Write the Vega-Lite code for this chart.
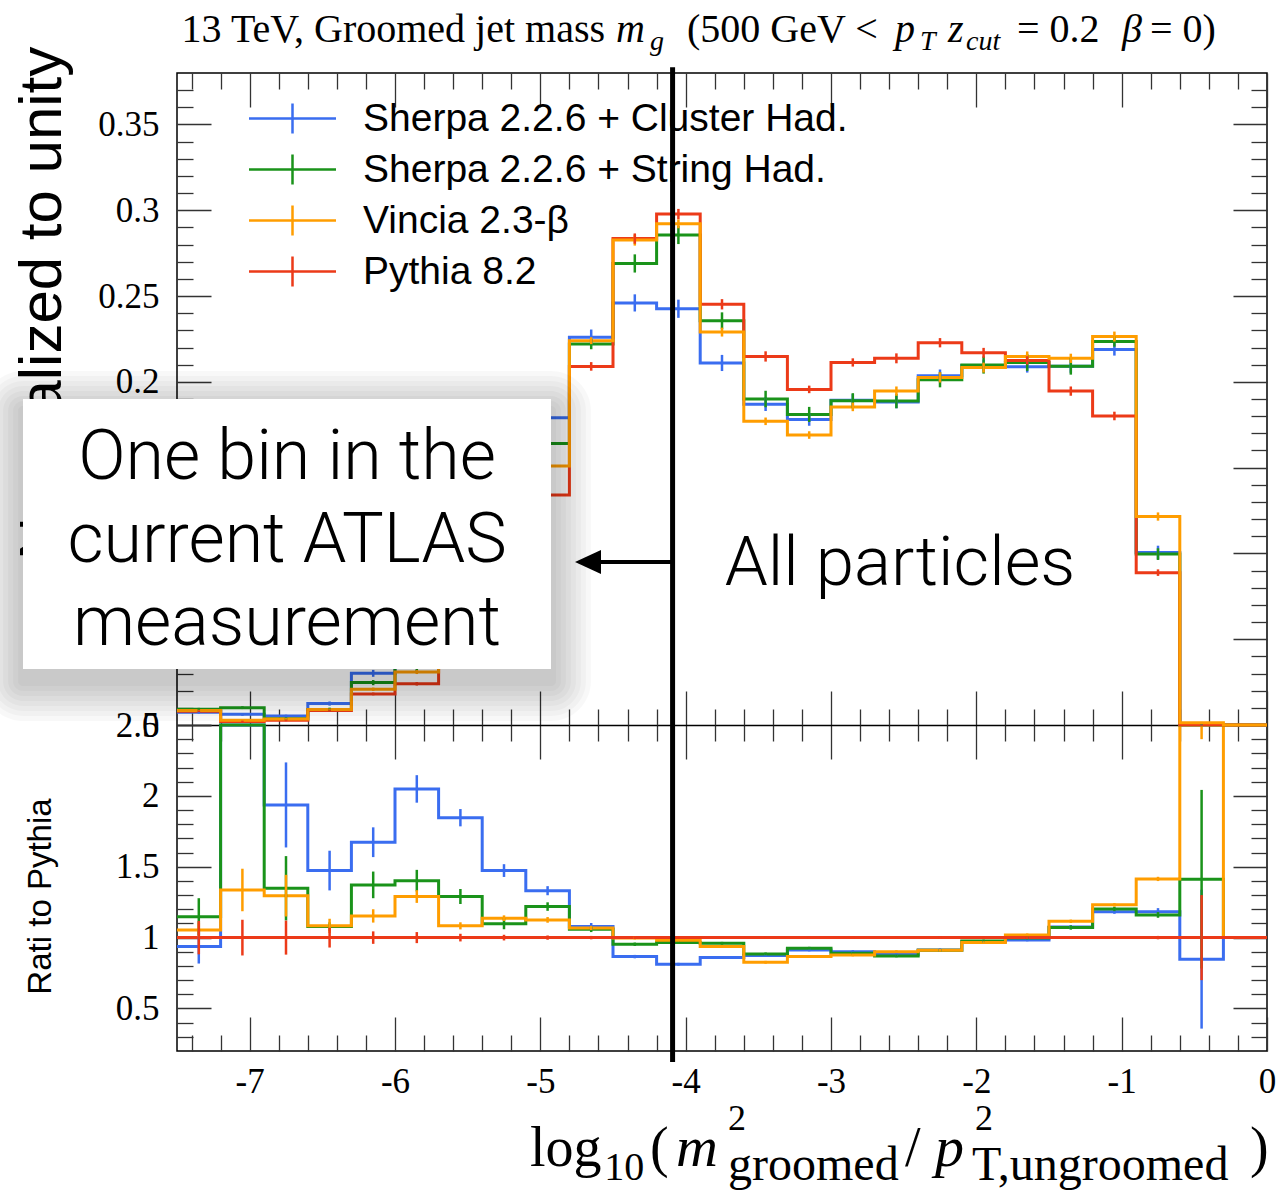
{
  "$schema": "https://vega.github.io/schema/vega-lite/v6.json",
  "width": 1090,
  "height": 978,
  "autosize": {"type": "none"},
  "padding": {"left": 177, "top": 73, "right": 10, "bottom": 142},
  "config": {
    "locale": {"number": {"decimal": ".", "thousands": ",", "grouping": [3], "currency": ["$", ""], "minus": "-"}},
    "view": {"stroke": "black", "strokeWidth": 1.5},
    "axis": {"grid": false, "tickColor": "#333333", "tickWidth": 1.3, "labelFont": "Liberation Serif", "labelFontSize": 35, "labelColor": "black", "labelOverlap": false, "labelFlush": false, "labelBound": false, "domainColor": "black", "domainWidth": 1.5, "titleFont": "Liberation Sans", "titleFontWeight": "normal", "titleColor": "black"},
    "text": {"color": "black"}
  },
  "datasets": {
    "d": [
      {"s":"Sherpa 2.2.6 + Cluster Had.","a":-7.5,"b":-7.2,"c":-7.35,"v":0.0075,"e":0.0008,"r":0.937,"q":0.12},
      {"s":"Sherpa 2.2.6 + Cluster Had.","a":-7.2,"b":-6.9,"c":-7.05,"v":0.0062,"e":0.0008,"r":3.1,"q":0.4},
      {"s":"Sherpa 2.2.6 + Cluster Had.","a":-6.9,"b":-6.6,"c":-6.75,"v":0.0052,"e":0.0008,"r":1.936,"q":0.3},
      {"s":"Sherpa 2.2.6 + Cluster Had.","a":-6.6,"b":-6.3,"c":-6.45,"v":0.0125,"e":0.0012,"r":1.473,"q":0.14},
      {"s":"Sherpa 2.2.6 + Cluster Had.","a":-6.3,"b":-6.0,"c":-6.15,"v":0.0301,"e":0.002,"r":1.673,"q":0.105},
      {"s":"Sherpa 2.2.6 + Cluster Had.","a":-6.0,"b":-5.7,"c":-5.85,"v":0.049,"e":0.0025,"r":2.049,"q":0.097},
      {"s":"Sherpa 2.2.6 + Cluster Had.","a":-5.7,"b":-5.4,"c":-5.55,"v":0.083,"e":0.003,"r":1.846,"q":0.061},
      {"s":"Sherpa 2.2.6 + Cluster Had.","a":-5.4,"b":-5.1,"c":-5.25,"v":0.125,"e":0.0035,"r":1.473,"q":0.045},
      {"s":"Sherpa 2.2.6 + Cluster Had.","a":-5.1,"b":-4.8,"c":-4.95,"v":0.179,"e":0.004,"r":1.331,"q":0.032},
      {"s":"Sherpa 2.2.6 + Cluster Had.","a":-4.8,"b":-4.5,"c":-4.65,"v":0.226,"e":0.0045,"r":1.078,"q":0.025},
      {"s":"Sherpa 2.2.6 + Cluster Had.","a":-4.5,"b":-4.2,"c":-4.35,"v":0.246,"e":0.005,"r":0.866,"q":0.012},
      {"s":"Sherpa 2.2.6 + Cluster Had.","a":-4.2,"b":-3.9,"c":-4.05,"v":0.2426,"e":0.0053,"r":0.812,"q":0.01},
      {"s":"Sherpa 2.2.6 + Cluster Had.","a":-3.9,"b":-3.6,"c":-3.75,"v":0.211,"e":0.0047,"r":0.859,"q":0.01},
      {"s":"Sherpa 2.2.6 + Cluster Had.","a":-3.6,"b":-3.3,"c":-3.45,"v":0.187,"e":0.004,"r":0.873,"q":0.01},
      {"s":"Sherpa 2.2.6 + Cluster Had.","a":-3.3,"b":-3.0,"c":-3.15,"v":0.178,"e":0.0036,"r":0.913,"q":0.01},
      {"s":"Sherpa 2.2.6 + Cluster Had.","a":-3.0,"b":-2.7,"c":-2.85,"v":0.1893,"e":0.0036,"r":0.901,"q":0.01},
      {"s":"Sherpa 2.2.6 + Cluster Had.","a":-2.7,"b":-2.4,"c":-2.55,"v":0.1882,"e":0.0036,"r":0.88,"q":0.01},
      {"s":"Sherpa 2.2.6 + Cluster Had.","a":-2.4,"b":-2.1,"c":-2.25,"v":0.2036,"e":0.0036,"r":0.913,"q":0.01},
      {"s":"Sherpa 2.2.6 + Cluster Had.","a":-2.1,"b":-1.8,"c":-1.95,"v":0.2095,"e":0.0034,"r":0.972,"q":0.01},
      {"s":"Sherpa 2.2.6 + Cluster Had.","a":-1.8,"b":-1.5,"c":-1.65,"v":0.2088,"e":0.0034,"r":0.984,"q":0.01},
      {"s":"Sherpa 2.2.6 + Cluster Had.","a":-1.5,"b":-1.2,"c":-1.35,"v":0.2091,"e":0.0038,"r":1.075,"q":0.012},
      {"s":"Sherpa 2.2.6 + Cluster Had.","a":-1.2,"b":-0.9,"c":-1.05,"v":0.2189,"e":0.0036,"r":1.183,"q":0.015},
      {"s":"Sherpa 2.2.6 + Cluster Had.","a":-0.9,"b":-0.6,"c":-0.75,"v":0.1005,"e":0.004,"r":1.183,"q":0.025},
      {"s":"Sherpa 2.2.6 + Cluster Had.","a":-0.6,"b":-0.3,"c":-0.45,"v":0.00009,"e":0.0002,"r":0.848,"q":0.49},
      {"s":"Sherpa 2.2.6 + Cluster Had.","a":-0.3,"b":0,"c":-0.15,"v":0,"e":0,"r":1,"q":0},
      {"s":"Sherpa 2.2.6 + String Had.","a":-7.5,"b":-7.2,"c":-7.35,"v":0.0092,"e":0.0008,"r":1.148,"q":0.13},
      {"s":"Sherpa 2.2.6 + String Had.","a":-7.2,"b":-6.9,"c":-7.05,"v":0.0101,"e":0.0008,"r":5.05,"q":0.6},
      {"s":"Sherpa 2.2.6 + String Had.","a":-6.9,"b":-6.6,"c":-6.75,"v":0.0036,"e":0.0008,"r":1.348,"q":0.227},
      {"s":"Sherpa 2.2.6 + String Had.","a":-6.6,"b":-6.3,"c":-6.45,"v":0.0091,"e":0.001,"r":1.078,"q":0.03},
      {"s":"Sherpa 2.2.6 + String Had.","a":-6.3,"b":-6.0,"c":-6.15,"v":0.0247,"e":0.0015,"r":1.372,"q":0.094},
      {"s":"Sherpa 2.2.6 + String Had.","a":-6.0,"b":-5.7,"c":-5.85,"v":0.0335,"e":0.002,"r":1.402,"q":0.076},
      {"s":"Sherpa 2.2.6 + String Had.","a":-5.7,"b":-5.4,"c":-5.55,"v":0.058,"e":0.003,"r":1.29,"q":0.053},
      {"s":"Sherpa 2.2.6 + String Had.","a":-5.4,"b":-5.1,"c":-5.25,"v":0.093,"e":0.0035,"r":1.097,"q":0.038},
      {"s":"Sherpa 2.2.6 + String Had.","a":-5.1,"b":-4.8,"c":-4.95,"v":0.164,"e":0.004,"r":1.219,"q":0.03},
      {"s":"Sherpa 2.2.6 + String Had.","a":-4.8,"b":-4.5,"c":-4.65,"v":0.222,"e":0.003,"r":1.059,"q":0.02},
      {"s":"Sherpa 2.2.6 + String Had.","a":-4.5,"b":-4.2,"c":-4.35,"v":0.269,"e":0.0053,"r":0.953,"q":0.012},
      {"s":"Sherpa 2.2.6 + String Had.","a":-4.2,"b":-3.9,"c":-4.05,"v":0.2856,"e":0.0053,"r":0.965,"q":0.01},
      {"s":"Sherpa 2.2.6 + String Had.","a":-3.9,"b":-3.6,"c":-3.75,"v":0.2356,"e":0.0049,"r":0.96,"q":0.01},
      {"s":"Sherpa 2.2.6 + String Had.","a":-3.6,"b":-3.3,"c":-3.45,"v":0.19,"e":0.0048,"r":0.885,"q":0.01},
      {"s":"Sherpa 2.2.6 + String Had.","a":-3.3,"b":-3.0,"c":-3.15,"v":0.181,"e":0.0044,"r":0.925,"q":0.01},
      {"s":"Sherpa 2.2.6 + String Had.","a":-3.0,"b":-2.7,"c":-2.85,"v":0.189,"e":0.0044,"r":0.89,"q":0.01},
      {"s":"Sherpa 2.2.6 + String Had.","a":-2.7,"b":-2.4,"c":-2.55,"v":0.1888,"e":0.0042,"r":0.871,"q":0.01},
      {"s":"Sherpa 2.2.6 + String Had.","a":-2.4,"b":-2.1,"c":-2.25,"v":0.2012,"e":0.0044,"r":0.91,"q":0.01},
      {"s":"Sherpa 2.2.6 + String Had.","a":-2.1,"b":-1.8,"c":-1.95,"v":0.2098,"e":0.005,"r":0.976,"q":0.01},
      {"s":"Sherpa 2.2.6 + String Had.","a":-1.8,"b":-1.5,"c":-1.65,"v":0.2113,"e":0.0049,"r":0.998,"q":0.012},
      {"s":"Sherpa 2.2.6 + String Had.","a":-1.5,"b":-1.2,"c":-1.35,"v":0.2091,"e":0.0049,"r":1.071,"q":0.015},
      {"s":"Sherpa 2.2.6 + String Had.","a":-1.2,"b":-0.9,"c":-1.05,"v":0.2235,"e":0.003,"r":1.202,"q":0.015},
      {"s":"Sherpa 2.2.6 + String Had.","a":-0.9,"b":-0.6,"c":-0.75,"v":0.0996,"e":0.0034,"r":1.16,"q":0.02},
      {"s":"Sherpa 2.2.6 + String Had.","a":-0.6,"b":-0.3,"c":-0.45,"v":0.00014,"e":0.0002,"r":1.412,"q":0.63},
      {"s":"Sherpa 2.2.6 + String Had.","a":-0.3,"b":0,"c":-0.15,"v":0,"e":0,"r":1,"q":0},
      {"s":"Vincia 2.3-β","a":-7.5,"b":-7.2,"c":-7.35,"v":0.0084,"e":0.0005,"r":1.054,"q":0.05},
      {"s":"Vincia 2.3-β","a":-7.2,"b":-6.9,"c":-7.05,"v":0.0027,"e":0.0005,"r":1.336,"q":0.15},
      {"s":"Vincia 2.3-β","a":-6.9,"b":-6.6,"c":-6.75,"v":0.0035,"e":0.0005,"r":1.296,"q":0.147},
      {"s":"Vincia 2.3-β","a":-6.6,"b":-6.3,"c":-6.45,"v":0.009,"e":0.0006,"r":1.083,"q":0.05},
      {"s":"Vincia 2.3-β","a":-6.3,"b":-6.0,"c":-6.15,"v":0.0208,"e":0.001,"r":1.153,"q":0.047},
      {"s":"Vincia 2.3-β","a":-6.0,"b":-5.7,"c":-5.85,"v":0.0309,"e":0.0012,"r":1.29,"q":0.045},
      {"s":"Vincia 2.3-β","a":-5.7,"b":-5.4,"c":-5.55,"v":0.049,"e":0.0015,"r":1.083,"q":0.025},
      {"s":"Vincia 2.3-β","a":-5.4,"b":-5.1,"c":-5.25,"v":0.097,"e":0.0018,"r":1.137,"q":0.02},
      {"s":"Vincia 2.3-β","a":-5.1,"b":-4.8,"c":-4.95,"v":0.151,"e":0.002,"r":1.125,"q":0.02},
      {"s":"Vincia 2.3-β","a":-4.8,"b":-4.5,"c":-4.65,"v":0.224,"e":0.002,"r":1.068,"q":0.015},
      {"s":"Vincia 2.3-β","a":-4.5,"b":-4.2,"c":-4.35,"v":0.2826,"e":0.0032,"r":0.997,"q":0.01},
      {"s":"Vincia 2.3-β","a":-4.2,"b":-3.9,"c":-4.05,"v":0.2921,"e":0.0026,"r":0.981,"q":0.01},
      {"s":"Vincia 2.3-β","a":-3.9,"b":-3.6,"c":-3.75,"v":0.229,"e":0.0026,"r":0.937,"q":0.01},
      {"s":"Vincia 2.3-β","a":-3.6,"b":-3.3,"c":-3.45,"v":0.177,"e":0.0022,"r":0.826,"q":0.01},
      {"s":"Vincia 2.3-β","a":-3.3,"b":-3.0,"c":-3.15,"v":0.169,"e":0.0022,"r":0.866,"q":0.01},
      {"s":"Vincia 2.3-β","a":-3.0,"b":-2.7,"c":-2.85,"v":0.1854,"e":0.0025,"r":0.878,"q":0.01},
      {"s":"Vincia 2.3-β","a":-2.7,"b":-2.4,"c":-2.55,"v":0.1946,"e":0.0027,"r":0.901,"q":0.01},
      {"s":"Vincia 2.3-β","a":-2.4,"b":-2.1,"c":-2.25,"v":0.2026,"e":0.003,"r":0.91,"q":0.01},
      {"s":"Vincia 2.3-β","a":-2.1,"b":-1.8,"c":-1.95,"v":0.2083,"e":0.0029,"r":0.965,"q":0.01},
      {"s":"Vincia 2.3-β","a":-1.8,"b":-1.5,"c":-1.65,"v":0.2148,"e":0.0029,"r":1.019,"q":0.01},
      {"s":"Vincia 2.3-β","a":-1.5,"b":-1.2,"c":-1.35,"v":0.2137,"e":0.0027,"r":1.115,"q":0.012},
      {"s":"Vincia 2.3-β","a":-1.2,"b":-0.9,"c":-1.05,"v":0.2264,"e":0.0029,"r":1.231,"q":0.012},
      {"s":"Vincia 2.3-β","a":-0.9,"b":-0.6,"c":-0.75,"v":0.1215,"e":0.0024,"r":1.414,"q":0.015},
      {"s":"Vincia 2.3-β","a":-0.6,"b":-0.3,"c":-0.45,"v":0.0013,"e":0.0005,"r":12,"q":9.6},
      {"s":"Vincia 2.3-β","a":-0.3,"b":0,"c":-0.15,"v":0,"e":0,"r":1,"q":0},
      {"s":"Pythia 8.2","a":-7.5,"b":-7.2,"c":-7.35,"v":0.008,"e":0.0005,"r":1,"q":0.118},
      {"s":"Pythia 8.2","a":-7.2,"b":-6.9,"c":-7.05,"v":0.002,"e":0.0005,"r":1,"q":0.126},
      {"s":"Pythia 8.2","a":-6.9,"b":-6.6,"c":-6.75,"v":0.0027,"e":0.0005,"r":1,"q":0.12},
      {"s":"Pythia 8.2","a":-6.6,"b":-6.3,"c":-6.45,"v":0.0084,"e":0.0006,"r":1,"q":0.07},
      {"s":"Pythia 8.2","a":-6.3,"b":-6.0,"c":-6.15,"v":0.0181,"e":0.0008,"r":1,"q":0.044},
      {"s":"Pythia 8.2","a":-6.0,"b":-5.7,"c":-5.85,"v":0.024,"e":0.001,"r":1,"q":0.039},
      {"s":"Pythia 8.2","a":-5.7,"b":-5.4,"c":-5.55,"v":0.045,"e":0.0015,"r":1,"q":0.027},
      {"s":"Pythia 8.2","a":-5.4,"b":-5.1,"c":-5.25,"v":0.085,"e":0.0018,"r":1,"q":0.02},
      {"s":"Pythia 8.2","a":-5.1,"b":-4.8,"c":-4.95,"v":0.134,"e":0.002,"r":1,"q":0.015},
      {"s":"Pythia 8.2","a":-4.8,"b":-4.5,"c":-4.65,"v":0.209,"e":0.0025,"r":1,"q":0.012},
      {"s":"Pythia 8.2","a":-4.5,"b":-4.2,"c":-4.35,"v":0.2835,"e":0.003,"r":1,"q":0.01},
      {"s":"Pythia 8.2","a":-4.2,"b":-3.9,"c":-4.05,"v":0.2978,"e":0.003,"r":1,"q":0.01},
      {"s":"Pythia 8.2","a":-3.9,"b":-3.6,"c":-3.75,"v":0.2452,"e":0.003,"r":1,"q":0.01},
      {"s":"Pythia 8.2","a":-3.6,"b":-3.3,"c":-3.45,"v":0.2148,"e":0.003,"r":1,"q":0.01},
      {"s":"Pythia 8.2","a":-3.3,"b":-3.0,"c":-3.15,"v":0.1956,"e":0.0022,"r":1,"q":0.01},
      {"s":"Pythia 8.2","a":-3.0,"b":-2.7,"c":-2.85,"v":0.2113,"e":0.0024,"r":1,"q":0.01},
      {"s":"Pythia 8.2","a":-2.7,"b":-2.4,"c":-2.55,"v":0.2137,"e":0.0029,"r":1,"q":0.01},
      {"s":"Pythia 8.2","a":-2.4,"b":-2.1,"c":-2.25,"v":0.2228,"e":0.0027,"r":1,"q":0.01},
      {"s":"Pythia 8.2","a":-2.1,"b":-1.8,"c":-1.95,"v":0.2169,"e":0.0029,"r":1,"q":0.01},
      {"s":"Pythia 8.2","a":-1.8,"b":-1.5,"c":-1.65,"v":0.2125,"e":0.0024,"r":1,"q":0.01},
      {"s":"Pythia 8.2","a":-1.5,"b":-1.2,"c":-1.35,"v":0.1946,"e":0.0027,"r":1,"q":0.01},
      {"s":"Pythia 8.2","a":-1.2,"b":-0.9,"c":-1.05,"v":0.1801,"e":0.0025,"r":1,"q":0.01},
      {"s":"Pythia 8.2","a":-0.9,"b":-0.6,"c":-0.75,"v":0.0888,"e":0.0019,"r":1,"q":0.012},
      {"s":"Pythia 8.2","a":-0.6,"b":-0.3,"c":-0.45,"v":0.0001,"e":0.0001,"r":1,"q":0.3},
      {"s":"Pythia 8.2","a":-0.3,"b":0,"c":-0.15,"v":0,"e":0,"r":1,"q":0}
    ]
  },
  "data": {"name": "d"},
  "layer": [
    {
      "transform": [{"filter": "datum.s=='Sherpa 2.2.6 + Cluster Had.'"}, {"fold": ["a", "b"], "as": ["k", "x"]}],
      "mark": {"type": "line", "strokeWidth": 3, "strokeJoin": "miter"},
      "encoding": {
        "x": {"field": "x", "type": "quantitative", "scale": {"domain": [-7.5, 0], "nice": false, "zero": false}, "axis": null},
        "y": {"field": "v", "type": "quantitative", "scale": {"domain": [0, 0.38], "nice": false, "zero": false, "range": [652, 0]}, "axis": null},
        "color": {"field": "s", "type": "nominal", "scale": {"domain": ["Sherpa 2.2.6 + Cluster Had.","Sherpa 2.2.6 + String Had.","Vincia 2.3-β","Pythia 8.2"], "range": ["#3a6df0","#1a931a","#ff9d00","#ec3a18"]},
          "legend": {"title": null, "orient": "none", "legendX": 96, "legendY": 26, "symbolType": "M-2.9,0H2.9M0,-1V1", "symbolSize": 900, "symbolStrokeWidth": 2.5, "labelFont": "Liberation Sans", "labelFontSize": 39, "labelColor": "black", "labelOffset": 51, "rowPadding": 10, "labelLimit": 0}},
        "order": {"value": null}
      }
    },
    {
      "layer": [
        {
          "transform": [{"filter": "datum.s=='Sherpa 2.2.6 + Cluster Had.'"}, {"fold": ["a", "b"], "as": ["k", "x"]}],
          "mark": {"type": "line", "strokeWidth": 3, "strokeJoin": "miter"},
          "encoding": {
            "x": {"field": "x", "type": "quantitative", "scale": {"domain": [-7.5, 0], "nice": false, "zero": false}, "axis": null},
            "y": {"field": "r", "type": "quantitative", "scale": {"domain": [0.2, 2.5], "nice": false, "zero": false, "range": [978, 652], "clamp": true}, "axis": null},
            "color": {"field": "s", "type": "nominal", "legend": null},
            "order": {"value": null}
          }
        },
        {
          "transform": [{"filter": "datum.s=='Sherpa 2.2.6 + String Had.'"}, {"fold": ["a", "b"], "as": ["k", "x"]}],
          "mark": {"type": "line", "strokeWidth": 3, "strokeJoin": "miter"},
          "encoding": {
            "x": {"field": "x", "type": "quantitative", "scale": {"domain": [-7.5, 0], "nice": false, "zero": false}, "axis": null},
            "y": {"field": "r", "type": "quantitative", "scale": {"domain": [0.2, 2.5], "nice": false, "zero": false, "range": [978, 652], "clamp": true}, "axis": null},
            "color": {"field": "s", "type": "nominal", "legend": null},
            "order": {"value": null}
          }
        },
        {
          "transform": [{"filter": "datum.s=='Vincia 2.3-β'"}, {"fold": ["a", "b"], "as": ["k", "x"]}],
          "mark": {"type": "line", "strokeWidth": 3, "strokeJoin": "miter"},
          "encoding": {
            "x": {"field": "x", "type": "quantitative", "scale": {"domain": [-7.5, 0], "nice": false, "zero": false}, "axis": null},
            "y": {"field": "r", "type": "quantitative", "scale": {"domain": [0.2, 2.5], "nice": false, "zero": false, "range": [978, 652], "clamp": true}, "axis": null},
            "color": {"field": "s", "type": "nominal", "legend": null},
            "order": {"value": null}
          }
        },
        {
          "transform": [{"filter": "datum.s=='Pythia 8.2'"}, {"fold": ["a", "b"], "as": ["k", "x"]}],
          "mark": {"type": "line", "strokeWidth": 3, "strokeJoin": "miter"},
          "encoding": {
            "x": {"field": "x", "type": "quantitative", "scale": {"domain": [-7.5, 0], "nice": false, "zero": false}, "axis": null},
            "y": {"field": "r", "type": "quantitative", "scale": {"domain": [0.2, 2.5], "nice": false, "zero": false, "range": [978, 652], "clamp": true}, "axis": null},
            "color": {"field": "s", "type": "nominal", "legend": null},
            "order": {"value": null}
          }
        },
        {
          "mark": {"type": "errorbar", "thickness": 2.5},
          "encoding": {
            "x": {"field": "c", "type": "quantitative", "scale": {"domain": [-7.5, 0], "nice": false, "zero": false}, "axis": null},
            "y": {"field": "r", "type": "quantitative", "scale": {"domain": [0.2, 2.5], "nice": false, "zero": false, "range": [978, 652], "clamp": true}, "axis": null},
            "yError": {"field": "q"},
            "color": {"field": "s", "type": "nominal", "legend": null}
          }
        }
      ]
    },
    {
      "layer": [
        {
          "transform": [{"filter": "datum.s=='Sherpa 2.2.6 + String Had.'"}, {"fold": ["a", "b"], "as": ["k", "x"]}],
          "mark": {"type": "line", "strokeWidth": 3, "strokeJoin": "miter"},
          "encoding": {
            "x": {"field": "x", "type": "quantitative", "scale": {"domain": [-7.5, 0], "nice": false, "zero": false}, "axis": null},
            "y": {"field": "v", "type": "quantitative", "scale": {"domain": [0, 0.38], "nice": false, "zero": false, "range": [652, 0]}, "axis": null},
            "color": {"field": "s", "type": "nominal", "legend": null},
            "order": {"value": null}
          }
        },
        {
          "transform": [{"filter": "datum.s=='Pythia 8.2'"}, {"fold": ["a", "b"], "as": ["k", "x"]}],
          "mark": {"type": "line", "strokeWidth": 3, "strokeJoin": "miter"},
          "encoding": {
            "x": {"field": "x", "type": "quantitative", "scale": {"domain": [-7.5, 0], "nice": false, "zero": false}, "axis": null},
            "y": {"field": "v", "type": "quantitative", "scale": {"domain": [0, 0.38], "nice": false, "zero": false, "range": [652, 0]}, "axis": null},
            "color": {"field": "s", "type": "nominal", "legend": null},
            "order": {"value": null}
          }
        },
        {
          "transform": [{"filter": "datum.s=='Vincia 2.3-β'"}, {"fold": ["a", "b"], "as": ["k", "x"]}],
          "mark": {"type": "line", "strokeWidth": 3, "strokeJoin": "miter"},
          "encoding": {
            "x": {"field": "x", "type": "quantitative", "scale": {"domain": [-7.5, 0], "nice": false, "zero": false}, "axis": null},
            "y": {"field": "v", "type": "quantitative", "scale": {"domain": [0, 0.38], "nice": false, "zero": false, "range": [652, 0]}, "axis": null},
            "color": {"field": "s", "type": "nominal", "legend": null},
            "order": {"value": null}
          }
        },
        {
          "mark": {"type": "errorbar", "thickness": 2.5},
          "encoding": {
            "x": {"field": "c", "type": "quantitative", "scale": {"domain": [-7.5, 0], "nice": false, "zero": false}, "axis": null},
            "y": {"field": "v", "type": "quantitative", "scale": {"domain": [0, 0.38], "nice": false, "zero": false, "range": [652, 0]}, "axis": null},
            "yError": {"field": "e"},
            "color": {"field": "s", "type": "nominal", "legend": null}
          }
        },
        {"data": {"values": [{}]}, "mark": {"type": "rect", "fill": "black", "fillOpacity": 0.028, "cornerRadius": 40},
          "encoding": {"x": {"datum": -8.8349, "type": "quantitative", "scale": {"domain": [-7.5, 0], "nice": false, "zero": false}, "axis": null}, "x2": {"datum": -4.6514},
            "y": {"datum": 0.20632, "type": "quantitative", "scale": {"domain": [0, 0.38], "nice": false, "zero": false, "range": [652, 0]}, "axis": null}, "y2": {"datum": 0.00233}}},
        {"data": {"values": [{}]}, "mark": {"type": "rect", "fill": "black", "fillOpacity": 0.028, "cornerRadius": 35},
          "encoding": {"x": {"datum": -8.8005, "type": "quantitative", "scale": {"domain": [-7.5, 0], "nice": false, "zero": false}, "axis": null}, "x2": {"datum": -4.6858},
            "y": {"datum": 0.2034, "type": "quantitative", "scale": {"domain": [0, 0.38], "nice": false, "zero": false, "range": [652, 0]}, "axis": null}, "y2": {"datum": 0.00525}}},
        {"data": {"values": [{}]}, "mark": {"type": "rect", "fill": "black", "fillOpacity": 0.028, "cornerRadius": 30},
          "encoding": {"x": {"datum": -8.7661, "type": "quantitative", "scale": {"domain": [-7.5, 0], "nice": false, "zero": false}, "axis": null}, "x2": {"datum": -4.7202},
            "y": {"datum": 0.20049, "type": "quantitative", "scale": {"domain": [0, 0.38], "nice": false, "zero": false, "range": [652, 0]}, "axis": null}, "y2": {"datum": 0.00816}}},
        {"data": {"values": [{}]}, "mark": {"type": "rect", "fill": "black", "fillOpacity": 0.028, "cornerRadius": 25},
          "encoding": {"x": {"datum": -8.7317, "type": "quantitative", "scale": {"domain": [-7.5, 0], "nice": false, "zero": false}, "axis": null}, "x2": {"datum": -4.7546},
            "y": {"datum": 0.19758, "type": "quantitative", "scale": {"domain": [0, 0.38], "nice": false, "zero": false, "range": [652, 0]}, "axis": null}, "y2": {"datum": 0.01107}}},
        {"data": {"values": [{}]}, "mark": {"type": "rect", "fill": "black", "fillOpacity": 0.028, "cornerRadius": 20},
          "encoding": {"x": {"datum": -8.6972, "type": "quantitative", "scale": {"domain": [-7.5, 0], "nice": false, "zero": false}, "axis": null}, "x2": {"datum": -4.789},
            "y": {"datum": 0.19466, "type": "quantitative", "scale": {"domain": [0, 0.38], "nice": false, "zero": false, "range": [652, 0]}, "axis": null}, "y2": {"datum": 0.01399}}},
        {"data": {"values": [{}]}, "mark": {"type": "rect", "fill": "black", "fillOpacity": 0.028, "cornerRadius": 15},
          "encoding": {"x": {"datum": -8.6628, "type": "quantitative", "scale": {"domain": [-7.5, 0], "nice": false, "zero": false}, "axis": null}, "x2": {"datum": -4.8234},
            "y": {"datum": 0.19175, "type": "quantitative", "scale": {"domain": [0, 0.38], "nice": false, "zero": false, "range": [652, 0]}, "axis": null}, "y2": {"datum": 0.0169}}},
        {"data": {"values": [{}]}, "mark": {"type": "rect", "fill": "black", "fillOpacity": 0.028, "cornerRadius": 10},
          "encoding": {"x": {"datum": -8.6284, "type": "quantitative", "scale": {"domain": [-7.5, 0], "nice": false, "zero": false}, "axis": null}, "x2": {"datum": -4.8578},
            "y": {"datum": 0.18883, "type": "quantitative", "scale": {"domain": [0, 0.38], "nice": false, "zero": false, "range": [652, 0]}, "axis": null}, "y2": {"datum": 0.01982}}},
        {"data": {"values": [{}]}, "mark": {"type": "rect", "fill": "black", "fillOpacity": 0.028, "cornerRadius": 5},
          "encoding": {"x": {"datum": -8.594, "type": "quantitative", "scale": {"domain": [-7.5, 0], "nice": false, "zero": false}, "axis": null}, "x2": {"datum": -4.8922},
            "y": {"datum": 0.18592, "type": "quantitative", "scale": {"domain": [0, 0.38], "nice": false, "zero": false, "range": [652, 0]}, "axis": null}, "y2": {"datum": 0.02273}}},
        {"data": {"values": [{}]}, "mark": {"type": "rect", "fill": "white"},
          "encoding": {"x": {"datum": -8.5596, "type": "quantitative", "scale": {"domain": [-7.5, 0], "nice": false, "zero": false}, "axis": null}, "x2": {"datum": -4.9266},
            "y": {"datum": 0.19, "type": "quantitative", "scale": {"domain": [0, 0.38], "nice": false, "zero": false, "range": [652, 0]}, "axis": null}, "y2": {"datum": 0.03264}}},
        {"data": {"values": [{}]}, "mark": {"type": "text", "text": ["One bin in the", "current ATLAS", "measurement"], "lineHeight": 83, "font": "Roboto", "fontWeight": 300, "fontSize": 70, "align": "center", "baseline": "middle", "color": "black"},
          "encoding": {"x": {"datum": -6.743, "type": "quantitative", "scale": {"domain": [-7.5, 0], "nice": false, "zero": false}, "axis": null},
            "y": {"datum": 0.15561, "type": "quantitative", "scale": {"domain": [0, 0.38], "nice": false, "zero": false, "range": [652, 0]}, "axis": null}}},
        {"data": {"values": [{}]}, "mark": {"type": "text", "text": "All particles", "font": "Roboto", "fontWeight": 300, "fontSize": 69, "align": "center", "baseline": "alphabetic", "color": "black"},
          "encoding": {"x": {"datum": -2.5252, "type": "quantitative", "scale": {"domain": [-7.5, 0], "nice": false, "zero": false}, "axis": null},
            "y": {"datum": 0.08159, "type": "quantitative", "scale": {"domain": [0, 0.38], "nice": false, "zero": false, "range": [652, 0]}, "axis": null}}},
        {"data": {"values": [{}]}, "mark": {"type": "rule", "color": "black", "strokeWidth": 4},
          "encoding": {"x": {"datum": -4.09, "type": "quantitative", "scale": {"domain": [-7.5, 0], "nice": false, "zero": false}, "axis": null}, "x2": {"datum": -4.62},
            "y": {"datum": 0.095, "type": "quantitative", "scale": {"domain": [0, 0.38], "nice": false, "zero": false, "range": [652, 0]}, "axis": null}}},
        {"data": {"values": [{}]}, "mark": {"type": "point", "shape": "M-1,0L1,-0.92L1,0.92Z", "size": 676, "filled": true, "fill": "black", "opacity": 1, "strokeWidth": 0},
          "encoding": {"x": {"datum": -4.672, "type": "quantitative", "scale": {"domain": [-7.5, 0], "nice": false, "zero": false}, "axis": null},
            "y": {"datum": 0.095, "type": "quantitative", "scale": {"domain": [0, 0.38], "nice": false, "zero": false, "range": [652, 0]}, "axis": null}}},
        {"data": {"values": [{}]}, "mark": {"type": "rule", "color": "black", "strokeWidth": 5},
          "encoding": {"x": {"datum": -4.09, "type": "quantitative", "scale": {"domain": [-7.5, 0], "nice": false, "zero": false}, "axis": null},
            "y": {"datum": 0.3834, "type": "quantitative", "scale": {"domain": [0, 0.38], "nice": false, "zero": false, "range": [652, 0]}, "axis": null}, "y2": {"datum": -0.1964}}},
        {"data": {"values": [{}]}, "mark": {"type": "text", "text": "13 TeV, Groomed jet mass", "font": "Liberation Serif", "fontSize": 40, "align": "left", "baseline": "alphabetic"},
          "encoding": {"x": {"datum": -7.4683, "type": "quantitative", "scale": {"domain": [-7.5, 0], "nice": false, "zero": false}, "axis": null}, "y": {"datum": 0.3982, "type": "quantitative", "scale": {"domain": [0, 0.38], "nice": false, "zero": false, "range": [652, 0]}, "axis": null}}},
        {"data": {"values": [{}]}, "mark": {"type": "text", "text": "m", "font": "Liberation Serif", "fontStyle": "italic", "fontSize": 40, "align": "left", "baseline": "alphabetic"},
          "encoding": {"x": {"datum": -4.4794, "type": "quantitative", "scale": {"domain": [-7.5, 0], "nice": false, "zero": false}, "axis": null}, "y": {"datum": 0.3982, "type": "quantitative", "scale": {"domain": [0, 0.38], "nice": false, "zero": false, "range": [652, 0]}, "axis": null}}},
        {"data": {"values": [{}]}, "mark": {"type": "text", "text": "g", "font": "Liberation Serif", "fontStyle": "italic", "fontSize": 28, "align": "left", "baseline": "alphabetic"},
          "encoding": {"x": {"datum": -4.245, "type": "quantitative", "scale": {"domain": [-7.5, 0], "nice": false, "zero": false}, "axis": null}, "y": {"datum": 0.3934, "type": "quantitative", "scale": {"domain": [0, 0.38], "nice": false, "zero": false, "range": [652, 0]}, "axis": null}}},
        {"data": {"values": [{}]}, "mark": {"type": "text", "text": "(500 GeV <", "font": "Liberation Serif", "fontSize": 40, "align": "left", "baseline": "alphabetic"},
          "encoding": {"x": {"datum": -3.9908, "type": "quantitative", "scale": {"domain": [-7.5, 0], "nice": false, "zero": false}, "axis": null}, "y": {"datum": 0.3982, "type": "quantitative", "scale": {"domain": [0, 0.38], "nice": false, "zero": false, "range": [652, 0]}, "axis": null}}},
        {"data": {"values": [{}]}, "mark": {"type": "text", "text": "p", "font": "Liberation Serif", "fontStyle": "italic", "fontSize": 40, "align": "left", "baseline": "alphabetic"},
          "encoding": {"x": {"datum": -2.5596, "type": "quantitative", "scale": {"domain": [-7.5, 0], "nice": false, "zero": false}, "axis": null}, "y": {"datum": 0.3982, "type": "quantitative", "scale": {"domain": [0, 0.38], "nice": false, "zero": false, "range": [652, 0]}, "axis": null}}},
        {"data": {"values": [{}]}, "mark": {"type": "text", "text": "T", "font": "Liberation Serif", "fontStyle": "italic", "fontSize": 28, "align": "left", "baseline": "alphabetic"},
          "encoding": {"x": {"datum": -2.3876, "type": "quantitative", "scale": {"domain": [-7.5, 0], "nice": false, "zero": false}, "axis": null}, "y": {"datum": 0.3934, "type": "quantitative", "scale": {"domain": [0, 0.38], "nice": false, "zero": false, "range": [652, 0]}, "axis": null}}},
        {"data": {"values": [{}]}, "mark": {"type": "text", "text": "z", "font": "Liberation Serif", "fontStyle": "italic", "fontSize": 40, "align": "left", "baseline": "alphabetic"},
          "encoding": {"x": {"datum": -2.195, "type": "quantitative", "scale": {"domain": [-7.5, 0], "nice": false, "zero": false}, "axis": null}, "y": {"datum": 0.3982, "type": "quantitative", "scale": {"domain": [0, 0.38], "nice": false, "zero": false, "range": [652, 0]}, "axis": null}}},
        {"data": {"values": [{}]}, "mark": {"type": "text", "text": "cut", "font": "Liberation Serif", "fontStyle": "italic", "fontSize": 28, "align": "left", "baseline": "alphabetic"},
          "encoding": {"x": {"datum": -2.0711, "type": "quantitative", "scale": {"domain": [-7.5, 0], "nice": false, "zero": false}, "axis": null}, "y": {"datum": 0.3934, "type": "quantitative", "scale": {"domain": [0, 0.38], "nice": false, "zero": false, "range": [652, 0]}, "axis": null}}},
        {"data": {"values": [{}]}, "mark": {"type": "text", "text": "= 0.2", "font": "Liberation Serif", "fontSize": 40, "align": "left", "baseline": "alphabetic"},
          "encoding": {"x": {"datum": -1.7202, "type": "quantitative", "scale": {"domain": [-7.5, 0], "nice": false, "zero": false}, "axis": null}, "y": {"datum": 0.3982, "type": "quantitative", "scale": {"domain": [0, 0.38], "nice": false, "zero": false, "range": [652, 0]}, "axis": null}}},
        {"data": {"values": [{}]}, "mark": {"type": "text", "text": "β", "font": "Liberation Serif", "fontStyle": "italic", "fontSize": 40, "align": "left", "baseline": "alphabetic"},
          "encoding": {"x": {"datum": -0.9977, "type": "quantitative", "scale": {"domain": [-7.5, 0], "nice": false, "zero": false}, "axis": null}, "y": {"datum": 0.3982, "type": "quantitative", "scale": {"domain": [0, 0.38], "nice": false, "zero": false, "range": [652, 0]}, "axis": null}}},
        {"data": {"values": [{}]}, "mark": {"type": "text", "text": "= 0)", "font": "Liberation Serif", "fontSize": 40, "align": "left", "baseline": "alphabetic"},
          "encoding": {"x": {"datum": -0.805, "type": "quantitative", "scale": {"domain": [-7.5, 0], "nice": false, "zero": false}, "axis": null}, "y": {"datum": 0.3982, "type": "quantitative", "scale": {"domain": [0, 0.38], "nice": false, "zero": false, "range": [652, 0]}, "axis": null}}},
        {"data": {"values": [{}]}, "mark": {"type": "text", "text": "log", "font": "Liberation Serif", "fontSize": 56, "align": "left", "baseline": "alphabetic"},
          "encoding": {"x": {"datum": -5.0711, "type": "quantitative", "scale": {"domain": [-7.5, 0], "nice": false, "zero": false}, "axis": null}, "y": {"datum": -0.25703, "type": "quantitative", "scale": {"domain": [0, 0.38], "nice": false, "zero": false, "range": [652, 0]}, "axis": null}}},
        {"data": {"values": [{}]}, "mark": {"type": "text", "text": "10", "font": "Liberation Serif", "fontSize": 40, "align": "left", "baseline": "alphabetic"},
          "encoding": {"x": {"datum": -4.56, "type": "quantitative", "scale": {"domain": [-7.5, 0], "nice": false, "zero": false}, "axis": null}, "y": {"datum": -0.26518, "type": "quantitative", "scale": {"domain": [0, 0.38], "nice": false, "zero": false, "range": [652, 0]}, "axis": null}}},
        {"data": {"values": [{}]}, "mark": {"type": "text", "text": "(", "font": "Liberation Serif", "fontSize": 56, "align": "left", "baseline": "alphabetic"},
          "encoding": {"x": {"datum": -4.2454, "type": "quantitative", "scale": {"domain": [-7.5, 0], "nice": false, "zero": false}, "axis": null}, "y": {"datum": -0.25703, "type": "quantitative", "scale": {"domain": [0, 0.38], "nice": false, "zero": false, "range": [652, 0]}, "axis": null}}},
        {"data": {"values": [{}]}, "mark": {"type": "text", "text": "m", "font": "Liberation Serif", "fontStyle": "italic", "fontSize": 58, "align": "left", "baseline": "alphabetic"},
          "encoding": {"x": {"datum": -4.0665, "type": "quantitative", "scale": {"domain": [-7.5, 0], "nice": false, "zero": false}, "axis": null}, "y": {"datum": -0.25703, "type": "quantitative", "scale": {"domain": [0, 0.38], "nice": false, "zero": false, "range": [652, 0]}, "axis": null}}},
        {"data": {"values": [{}]}, "mark": {"type": "text", "text": "2", "font": "Liberation Serif", "fontSize": 36, "align": "left", "baseline": "alphabetic"},
          "encoding": {"x": {"datum": -3.7087, "type": "quantitative", "scale": {"domain": [-7.5, 0], "nice": false, "zero": false}, "axis": null}, "y": {"datum": -0.23604, "type": "quantitative", "scale": {"domain": [0, 0.38], "nice": false, "zero": false, "range": [652, 0]}, "axis": null}}},
        {"data": {"values": [{}]}, "mark": {"type": "text", "text": "groomed", "font": "Liberation Serif", "fontSize": 48, "align": "left", "baseline": "alphabetic"},
          "encoding": {"x": {"datum": -3.7087, "type": "quantitative", "scale": {"domain": [-7.5, 0], "nice": false, "zero": false}, "axis": null}, "y": {"datum": -0.26518, "type": "quantitative", "scale": {"domain": [0, 0.38], "nice": false, "zero": false, "range": [652, 0]}, "axis": null}}},
        {"data": {"values": [{}]}, "mark": {"type": "text", "text": "/", "font": "Liberation Serif", "fontSize": 56, "align": "left", "baseline": "alphabetic"},
          "encoding": {"x": {"datum": -2.4908, "type": "quantitative", "scale": {"domain": [-7.5, 0], "nice": false, "zero": false}, "axis": null}, "y": {"datum": -0.25703, "type": "quantitative", "scale": {"domain": [0, 0.38], "nice": false, "zero": false, "range": [652, 0]}, "axis": null}}},
        {"data": {"values": [{}]}, "mark": {"type": "text", "text": "p", "font": "Liberation Serif", "fontStyle": "italic", "fontSize": 58, "align": "left", "baseline": "alphabetic"},
          "encoding": {"x": {"datum": -2.2844, "type": "quantitative", "scale": {"domain": [-7.5, 0], "nice": false, "zero": false}, "axis": null}, "y": {"datum": -0.25703, "type": "quantitative", "scale": {"domain": [0, 0.38], "nice": false, "zero": false, "range": [652, 0]}, "axis": null}}},
        {"data": {"values": [{}]}, "mark": {"type": "text", "text": "2", "font": "Liberation Serif", "fontSize": 36, "align": "left", "baseline": "alphabetic"},
          "encoding": {"x": {"datum": -2.0092, "type": "quantitative", "scale": {"domain": [-7.5, 0], "nice": false, "zero": false}, "axis": null}, "y": {"datum": -0.23604, "type": "quantitative", "scale": {"domain": [0, 0.38], "nice": false, "zero": false, "range": [652, 0]}, "axis": null}}},
        {"data": {"values": [{}]}, "mark": {"type": "text", "text": "T,ungroomed", "font": "Liberation Serif", "fontSize": 48, "align": "left", "baseline": "alphabetic"},
          "encoding": {"x": {"datum": -2.0298, "type": "quantitative", "scale": {"domain": [-7.5, 0], "nice": false, "zero": false}, "axis": null}, "y": {"datum": -0.26518, "type": "quantitative", "scale": {"domain": [0, 0.38], "nice": false, "zero": false, "range": [652, 0]}, "axis": null}}},
        {"data": {"values": [{}]}, "mark": {"type": "text", "text": ")", "font": "Liberation Serif", "fontSize": 56, "align": "left", "baseline": "alphabetic"},
          "encoding": {"x": {"datum": -0.117, "type": "quantitative", "scale": {"domain": [-7.5, 0], "nice": false, "zero": false}, "axis": null}, "y": {"datum": -0.25703, "type": "quantitative", "scale": {"domain": [0, 0.38], "nice": false, "zero": false, "range": [652, 0]}, "axis": null}}}
      ]
    },
    {
      "mark": {"type": "point", "opacity": 0},
      "encoding": {
        "x": {"field": "c", "type": "quantitative", "scale": {"domain": [-7.5, 0], "nice": false, "zero": false},
          "axis": {"orient": "bottom", "values": [-7,-6,-5,-4,-3,-2,-1,0], "tickSize": -34, "format": "d", "labelPadding": 47, "domain": false, "title": null}},
        "y": {"field": "r", "type": "quantitative", "scale": {"domain": [0.2, 2.5], "nice": false, "zero": false, "range": [978, 652], "clamp": true},
          "axis": {"orient": "left", "values": [0.5,1,1.5,2,2.5], "tickSize": -34, "format": ".1~f", "labelPadding": 52, "domain": false,
            "title": "Rati to Pythia", "titleFontSize": 33, "titleX": -127, "titleY": 823, "titleAngle": -90, "titleAlign": "center", "titleBaseline": "alphabetic"}}
      }
    },
    {
      "mark": {"type": "point", "opacity": 0},
      "encoding": {
        "x": {"field": "c", "type": "quantitative", "scale": {"domain": [-7.5, 0], "nice": false, "zero": false},
          "axis": {"orient": "bottom", "values": [-7.4,-7.2,-6.8,-6.6,-6.4,-6.2,-5.8,-5.6,-5.4,-5.2,-4.8,-4.6,-4.4,-4.2,-3.8,-3.6,-3.4,-3.2,-2.8,-2.6,-2.4,-2.2,-1.8,-1.6,-1.4,-1.2,-0.8,-0.6,-0.4,-0.2], "tickSize": -16, "labels": false, "domain": false, "title": null}},
        "y": {"field": "r", "type": "quantitative", "scale": {"domain": [0.2, 2.5], "nice": false, "zero": false, "range": [978, 652], "clamp": true},
          "axis": {"orient": "left", "values": [0.3,0.4,0.6,0.7,0.8,0.9,1.1,1.2,1.3,1.4,1.6,1.7,1.8,1.9,2.1,2.2,2.3,2.4], "tickSize": -16, "labels": false, "domain": false, "title": null}}
      }
    },
    {
      "mark": {"type": "point", "opacity": 0},
      "encoding": {
        "x": {"field": "c", "type": "quantitative", "scale": {"domain": [-7.5, 0], "nice": false, "zero": false},
          "axis": {"orient": "top", "offset": -652, "values": [-7,-6,-5,-4,-3,-2,-1,0], "tickSize": -34, "labels": false, "domain": false, "title": null}},
        "y": {"field": "r", "type": "quantitative", "scale": {"domain": [0.2, 2.5], "nice": false, "zero": false, "range": [978, 652], "clamp": true},
          "axis": {"orient": "right", "values": [0.5,1,1.5,2,2.5], "tickSize": -34, "labels": false, "domain": false, "title": null}}
      }
    },
    {
      "mark": {"type": "point", "opacity": 0},
      "encoding": {
        "x": {"field": "c", "type": "quantitative", "scale": {"domain": [-7.5, 0], "nice": false, "zero": false},
          "axis": {"orient": "top", "offset": -652, "values": [-7.4,-7.2,-6.8,-6.6,-6.4,-6.2,-5.8,-5.6,-5.4,-5.2,-4.8,-4.6,-4.4,-4.2,-3.8,-3.6,-3.4,-3.2,-2.8,-2.6,-2.4,-2.2,-1.8,-1.6,-1.4,-1.2,-0.8,-0.6,-0.4,-0.2], "tickSize": -16, "labels": false, "domain": false, "title": null}},
        "y": {"field": "r", "type": "quantitative", "scale": {"domain": [0.2, 2.5], "nice": false, "zero": false, "range": [978, 652], "clamp": true},
          "axis": {"orient": "right", "values": [0.3,0.4,0.6,0.7,0.8,0.9,1.1,1.2,1.3,1.4,1.6,1.7,1.8,1.9,2.1,2.2,2.3,2.4], "tickSize": -16, "labels": false, "domain": false, "title": null}}
      }
    },
    {
      "mark": {"type": "point", "opacity": 0},
      "encoding": {
        "x": {"field": "c", "type": "quantitative", "scale": {"domain": [-7.5, 0], "nice": false, "zero": false},
          "axis": {"orient": "bottom", "offset": -326, "values": [-7,-6,-5,-4,-3,-2,-1,0], "tickSize": -34, "labels": false, "domain": true, "title": null}},
        "y": {"field": "v", "type": "quantitative", "scale": {"domain": [0, 0.38], "nice": false, "zero": false, "range": [652, 0]},
          "axis": {"orient": "left", "values": [0,0.2,0.25,0.3,0.35], "tickSize": -34, "format": ".2~f", "labelPadding": 52, "domain": false,
            "title": "Normalized to unity", "titleFontSize": 60, "titleX": -117, "titleY": 230, "titleAngle": -90, "titleAlign": "center", "titleBaseline": "alphabetic"}}
      }
    },
    {
      "mark": {"type": "point", "opacity": 0},
      "encoding": {
        "x": {"field": "c", "type": "quantitative", "scale": {"domain": [-7.5, 0], "nice": false, "zero": false},
          "axis": {"orient": "bottom", "offset": -326, "values": [-7.4,-7.2,-6.8,-6.6,-6.4,-6.2,-5.8,-5.6,-5.4,-5.2,-4.8,-4.6,-4.4,-4.2,-3.8,-3.6,-3.4,-3.2,-2.8,-2.6,-2.4,-2.2,-1.8,-1.6,-1.4,-1.2,-0.8,-0.6,-0.4,-0.2], "tickSize": -16, "labels": false, "domain": false, "title": null}},
        "y": {"field": "v", "type": "quantitative", "scale": {"domain": [0, 0.38], "nice": false, "zero": false, "range": [652, 0]},
          "axis": {"orient": "left", "values": [0.01,0.02,0.03,0.04,0.05,0.06,0.07,0.08,0.09,0.1,0.11,0.12,0.13,0.14,0.15,0.16,0.17,0.18,0.19,0.21,0.22,0.23,0.24,0.26,0.27,0.28,0.29,0.31,0.32,0.33,0.34,0.36,0.37], "tickSize": -16, "labels": false, "domain": false, "title": null}}
      }
    },
    {
      "mark": {"type": "point", "opacity": 0},
      "encoding": {
        "x": {"field": "c", "type": "quantitative", "scale": {"domain": [-7.5, 0], "nice": false, "zero": false},
          "axis": {"orient": "top", "values": [-7,-6,-5,-4,-3,-2,-1,0], "tickSize": -34, "labels": false, "domain": false, "title": null}},
        "y": {"field": "v", "type": "quantitative", "scale": {"domain": [0, 0.38], "nice": false, "zero": false, "range": [652, 0]},
          "axis": {"orient": "right", "values": [0,0.05,0.1,0.15,0.2,0.25,0.3,0.35], "tickSize": -34, "labels": false, "domain": false, "title": null}}
      }
    },
    {
      "mark": {"type": "point", "opacity": 0},
      "encoding": {
        "x": {"field": "c", "type": "quantitative", "scale": {"domain": [-7.5, 0], "nice": false, "zero": false},
          "axis": {"orient": "top", "values": [-7.4,-7.2,-6.8,-6.6,-6.4,-6.2,-5.8,-5.6,-5.4,-5.2,-4.8,-4.6,-4.4,-4.2,-3.8,-3.6,-3.4,-3.2,-2.8,-2.6,-2.4,-2.2,-1.8,-1.6,-1.4,-1.2,-0.8,-0.6,-0.4,-0.2], "tickSize": -16, "labels": false, "domain": false, "title": null}},
        "y": {"field": "v", "type": "quantitative", "scale": {"domain": [0, 0.38], "nice": false, "zero": false, "range": [652, 0]},
          "axis": {"orient": "right", "values": [0.01,0.02,0.03,0.04,0.06,0.07,0.08,0.09,0.11,0.12,0.13,0.14,0.16,0.17,0.18,0.19,0.21,0.22,0.23,0.24,0.26,0.27,0.28,0.29,0.31,0.32,0.33,0.34,0.36,0.37], "tickSize": -16, "labels": false, "domain": false, "title": null}}
      }
    }
  ],
  "resolve": {"scale": {"x": "independent", "y": "independent"}}
}
